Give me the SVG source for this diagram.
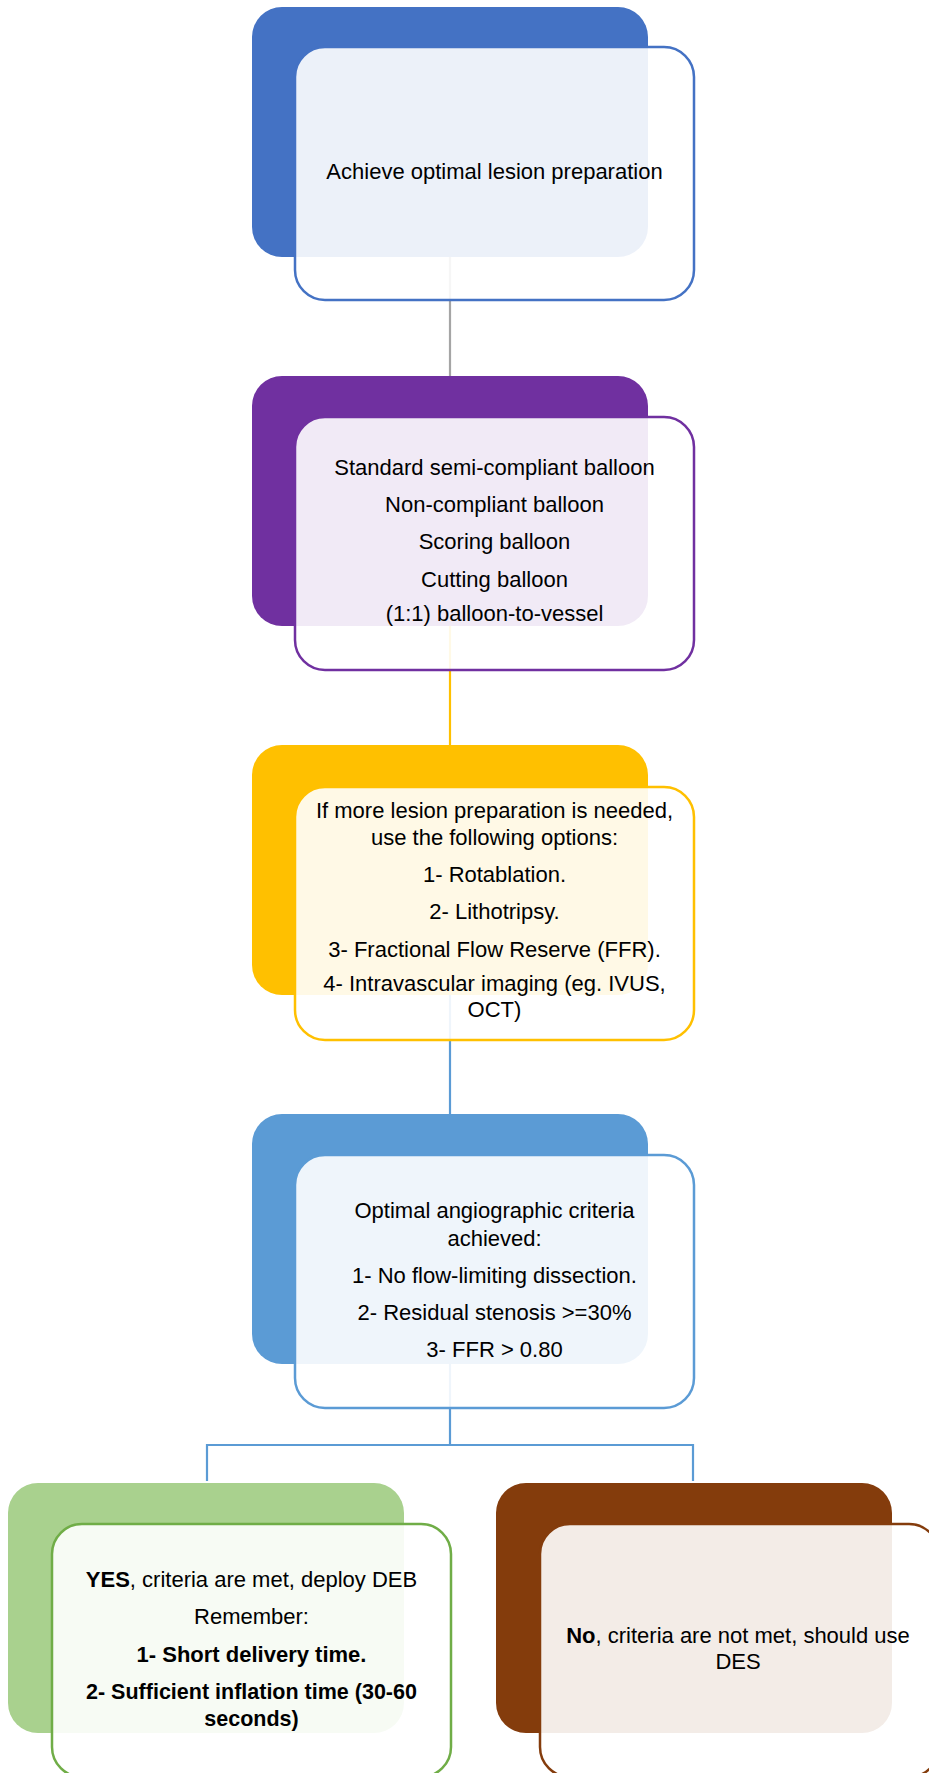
<svg xmlns="http://www.w3.org/2000/svg" width="929" height="1773" viewBox="0 0 929 1773">
<style>
.back{stroke:none}
.front{fill:#ffffff;fill-opacity:0.9;stroke-width:2.5}
.t{font-family:"Liberation Sans",Arial,sans-serif;font-size:22px;fill:#000;text-anchor:middle}
.b{font-weight:bold}
.conn{fill:none;stroke-width:2.2}
</style>
<rect width="929" height="1773" fill="#ffffff"/>
<g id="connectors">
<line class="conn" x1="450" y1="257" x2="450" y2="376" stroke="#A5A5A5"/>
<line class="conn" x1="450" y1="626" x2="450" y2="745" stroke="#FFC000"/>
<line class="conn" x1="450" y1="995" x2="450" y2="1114" stroke="#5B9BD5"/>
<path class="conn" d="M450 1364 V1445 M207 1481 V1445 H693 V1481" stroke="#5B9BD5"/>
</g>
<g id="node1">
<rect class="back" x="252" y="7" width="396" height="250" rx="30" fill="#4472C4"/>
<rect class="front" x="295" y="47" width="399" height="253" rx="30" stroke="#4472C4"/>
<text class="t" x="494.5" y="179">Achieve optimal lesion preparation</text>
</g>
<g id="node2">
<rect class="back" x="252" y="376" width="396" height="250" rx="30" fill="#7030A0"/>
<rect class="front" x="295" y="417" width="399" height="253" rx="30" stroke="#7030A0"/>
<text class="t" x="494.5" y="475">Standard semi-compliant balloon</text>
<text class="t" x="494.5" y="512">Non-compliant balloon</text>
<text class="t" x="494.5" y="549">Scoring balloon</text>
<text class="t" x="494.5" y="587">Cutting balloon</text>
<text class="t" x="494.5" y="621">(1:1) balloon-to-vessel</text>
</g>
<g id="node3">
<rect class="back" x="252" y="745" width="396" height="250" rx="30" fill="#FFC000"/>
<rect class="front" x="295" y="787" width="399" height="253" rx="30" stroke="#FFC000"/>
<text class="t" x="494.5" y="818">If more lesion preparation is needed,</text>
<text class="t" x="494.5" y="845">use the following options:</text>
<text class="t" x="494.5" y="882">1- Rotablation.</text>
<text class="t" x="494.5" y="919">2- Lithotripsy.</text>
<text class="t" x="494.5" y="957">3- Fractional Flow Reserve (FFR).</text>
<text class="t" x="494.5" y="991">4- Intravascular imaging (eg. IVUS,</text>
<text class="t" x="494.5" y="1017">OCT)</text>
</g>
<g id="node4">
<rect class="back" x="252" y="1114" width="396" height="250" rx="30" fill="#5B9BD5"/>
<rect class="front" x="295" y="1155" width="399" height="253" rx="30" stroke="#5B9BD5"/>
<text class="t" x="494.5" y="1218">Optimal angiographic criteria</text>
<text class="t" x="494.5" y="1246">achieved:</text>
<text class="t" x="494.5" y="1283">1- No flow-limiting dissection.</text>
<text class="t" x="494.5" y="1320">2- Residual stenosis &gt;=30%</text>
<text class="t" x="494.5" y="1357">3- FFR &gt; 0.80</text>
</g>
<g id="node5">
<rect class="back" x="8" y="1483" width="396" height="250" rx="30" fill="#A9D18E"/>
<rect class="front" x="52" y="1524" width="399" height="253" rx="30" stroke="#70AD47"/>
<text class="t" x="251.5" y="1587"><tspan class="b">YES</tspan>, criteria are met, deploy DEB</text>
<text class="t" x="251.5" y="1624">Remember:</text>
<text class="t b" x="251.5" y="1662">1- Short delivery time.</text>
<text class="t b" x="251.5" y="1699" style="font-size:21.5px">2- Sufficient inflation time (30-60</text>
<text class="t b" x="251.5" y="1726" style="font-size:21.5px">seconds)</text>
</g>
<g id="node6">
<rect class="back" x="496" y="1483" width="396" height="250" rx="30" fill="#843C0C"/>
<rect class="front" x="540" y="1524" width="399" height="253" rx="30" stroke="#843C0C"/>
<text class="t" x="738" y="1643"><tspan class="b">No</tspan>, criteria are not met, should use</text>
<text class="t" x="738" y="1669">DES</text>
</g>
</svg>
